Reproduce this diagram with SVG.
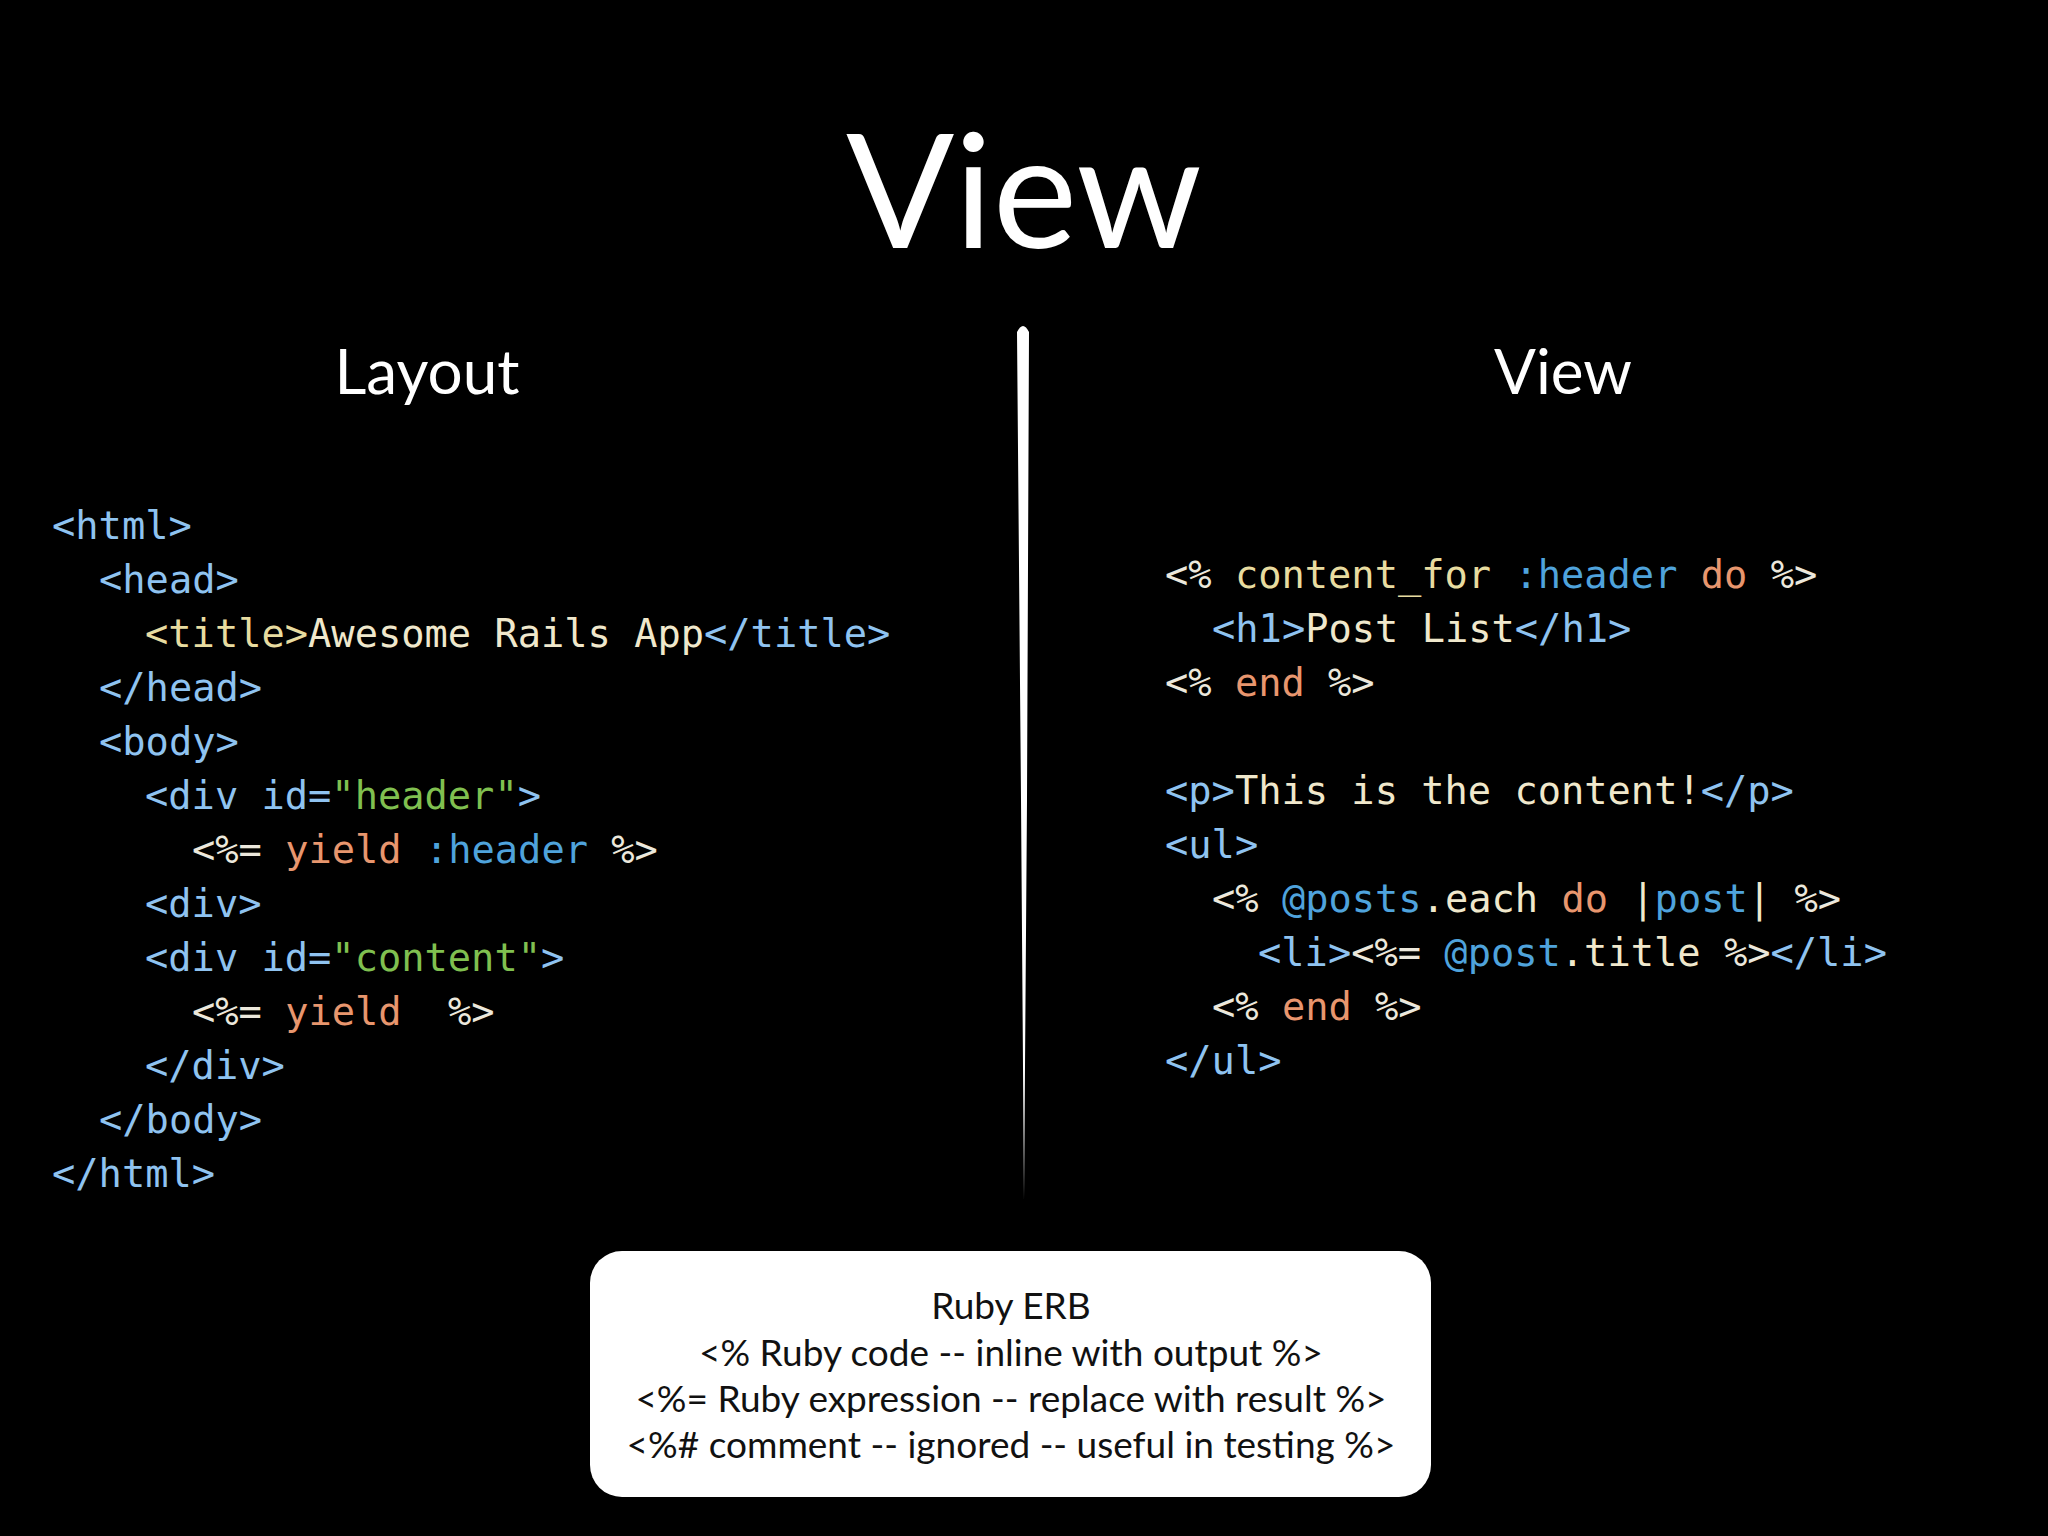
<svg xmlns="http://www.w3.org/2000/svg" width="2048" height="1536" viewBox="0 0 2048 1536">
<style>
.h{font-family:Lato,"Open Sans","Liberation Sans",sans-serif;fill:#fff;text-anchor:middle}
.c{font-family:"DejaVu Sans Mono","Liberation Mono",monospace;font-size:38.7px;fill:#8fc3f0;white-space:pre}
.t{fill:#8fc3f0}.y{fill:#e8dca0}.w{fill:#f0e8cc}.g{fill:#80c050}.o{fill:#e8966e}.s{fill:#4fa3dc}.p{fill:#ece8dc}
.b{font-family:Lato,"Open Sans","Liberation Sans",sans-serif;font-size:37px;fill:#111;text-anchor:middle}
</style>
<rect width="2048" height="1536" fill="#000"/>
<g id="title"><text class="h" x="1024" y="248" font-size="160">View</text></g>
<g id="layout-heading"><text class="h" x="427" y="394" font-size="62">Layout</text></g>
<g id="view-heading"><text class="h" x="1563" y="394" font-size="62">View</text></g>
<g id="divider"><path d="M1017,332 Q1023,320 1029,332 L1027,800 L1024,1200 L1021,800 Z" fill="#fff"/></g>
<g id="layout-code" class="c">
<text x="52" y="539">&lt;html&gt;</text>
<text x="99" y="593">&lt;head&gt;</text>
<text x="145" y="647"><tspan class="y">&lt;title&gt;</tspan><tspan class="w">Awesome Rails App</tspan>&lt;/title&gt;</text>
<text x="99" y="701">&lt;/head&gt;</text>
<text x="99" y="755">&lt;body&gt;</text>
<text x="145" y="809">&lt;div id=<tspan class="g">"header"</tspan>&gt;</text>
<text x="192" y="863"><tspan class="p">&lt;%=</tspan> <tspan class="o">yield</tspan> <tspan class="s">:header</tspan> <tspan class="p">%&gt;</tspan></text>
<text x="145" y="917">&lt;div&gt;</text>
<text x="145" y="971">&lt;div id=<tspan class="g">"content"</tspan>&gt;</text>
<text x="192" y="1025"><tspan class="p">&lt;%=</tspan> <tspan class="o">yield</tspan><tspan class="p" x="448">%&gt;</tspan></text>
<text x="145" y="1079">&lt;/div&gt;</text>
<text x="99" y="1133">&lt;/body&gt;</text>
<text x="52" y="1187">&lt;/html&gt;</text>
</g>
<g id="view-code" class="c">
<text x="1165" y="588"><tspan class="p">&lt;%</tspan> <tspan class="y">content_for</tspan> <tspan class="s">:header</tspan> <tspan class="o">do</tspan> <tspan class="p">%&gt;</tspan></text>
<text x="1212" y="642">&lt;h1&gt;<tspan class="w">Post List</tspan>&lt;/h1&gt;</text>
<text x="1165" y="696"><tspan class="p">&lt;%</tspan> <tspan class="o">end</tspan> <tspan class="p">%&gt;</tspan></text>
<text x="1165" y="804">&lt;p&gt;<tspan class="w">This is the content!</tspan>&lt;/p&gt;</text>
<text x="1165" y="858">&lt;ul&gt;</text>
<text x="1212" y="912"><tspan class="p">&lt;%</tspan> <tspan class="s">@posts</tspan><tspan class="w">.each</tspan> <tspan class="o">do</tspan> <tspan class="w">|</tspan><tspan class="s">post</tspan><tspan class="w">|</tspan> <tspan class="p">%&gt;</tspan></text>
<text x="1258" y="966">&lt;li&gt;<tspan class="p">&lt;%=</tspan> <tspan class="s">@post</tspan><tspan class="w">.title</tspan> <tspan class="p">%&gt;</tspan>&lt;/li&gt;</text>
<text x="1212" y="1020"><tspan class="p">&lt;%</tspan> <tspan class="o">end</tspan> <tspan class="p">%&gt;</tspan></text>
<text x="1165" y="1074">&lt;/ul&gt;</text>
</g>
<g id="erb-box">
<rect x="590" y="1251" width="841" height="246" rx="32" fill="#fff"/>
<text class="b" x="1011" y="1319">Ruby ERB</text>
<text class="b" x="1011" y="1366">&lt;% Ruby code -- inline with output %&gt;</text>
<text class="b" x="1011" y="1412">&lt;%= Ruby expression -- replace with result %&gt;</text>
<text class="b" x="1011" y="1458">&lt;%# comment -- ignored -- useful in testing %&gt;</text>
</g>
</svg>
